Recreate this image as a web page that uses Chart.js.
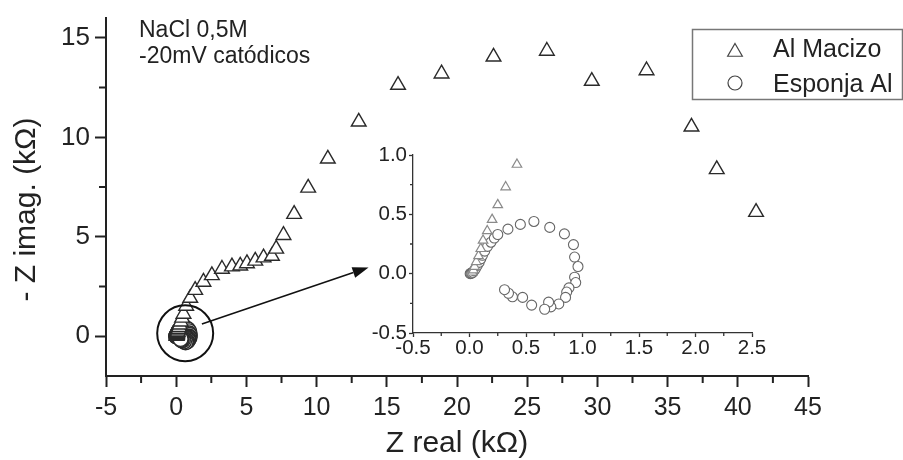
<!DOCTYPE html>
<html>
<head>
<meta charset="utf-8">
<script src="https://cdn.jsdelivr.net/npm/chart.js@4.4.1/dist/chart.umd.min.js"></script>
<style>
html,body{margin:0;padding:0;background:#fff;}
#wrap{position:relative;width:903px;height:460px;overflow:hidden;}
#main{position:absolute;left:0;top:0;}
#inset{position:absolute;left:350px;top:140px;}
</style>
</head>
<body>
<div id="wrap">
<canvas id="main" width="903" height="460"></canvas>
<canvas id="inset" width="440" height="230"></canvas>
</div>
<script>
// ---- data ----
const seriesNames = ['Al Macizo', 'Esponja Al'];

const alMacizoX = [0.025,0.035,0.045,0.06,0.08,0.10,0.12,0.157,0.20,0.25,0.32,0.42,0.52,0.71,1.0,1.35,1.94,2.54,3.26,3.97,4.56,5.04,5.63,6.22,6.82,7.12,7.64,8.4,9.4,10.8,13.0,15.8,18.9,22.6,26.4,29.6,33.5,36.7,38.5,41.3];
const alMacizoY = [0.012,0.03,0.06,0.1,0.15,0.21,0.28,0.36,0.455,0.58,0.73,0.92,1.12,1.52,1.92,2.32,2.73,3.06,3.38,3.5,3.54,3.66,3.79,3.95,4.03,4.39,5.08,6.14,7.46,8.92,10.78,12.63,13.2,14.05,14.34,12.83,13.36,10.53,8.39,6.24];

const esponjaX = [0.006,0.012,0.02,0.03,0.04,0.055,0.07,0.085,0.10,0.115,0.135,0.16,0.19,0.22,0.25,0.34,0.45,0.57,0.71,0.84,0.92,0.93,0.96,0.93,0.94,0.88,0.86,0.85,0.79,0.72,0.70,0.665,0.55,0.47,0.38,0.345,0.31];
const esponjaY = [0.0,0.002,0.005,0.012,0.025,0.045,0.07,0.095,0.125,0.155,0.19,0.23,0.265,0.30,0.33,0.375,0.415,0.44,0.39,0.335,0.245,0.14,0.06,-0.03,-0.075,-0.12,-0.155,-0.2,-0.255,-0.28,-0.24,-0.30,-0.265,-0.2,-0.195,-0.165,-0.135];

const mainXTicks = [-5,0,5,10,15,20,25,30,35,40,45];
const mainYTicks = [0,5,10,15];
const mainXMinor = [-2.5,2.5,7.5,12.5,17.5,22.5,27.5,32.5,37.5,42.5];
const mainYMinor = [2.5,7.5,12.5];
const insetXTicks = [-0.5,0,0.5,1,1.5,2,2.5];
const insetYTicks = [-0.5,0,0.5,1];
const insetXMinor = [-0.25,0.25,0.75,1.25,1.75,2.25];
const insetYMinor = [-0.25,0.25,0.75];

const xTitle = 'Z real (k\u03A9)';
const yTitle = '- Z imag. (k\u03A9)';
const noteLines = ['NaCl 0,5M', '-20mV cat\u00F3dicos'];

// zoom marker annotation (data coordinates of main chart)
const zoomCircle = {x: 0.64, y: 0.15};
const arrowFrom = {x: 1.83, y: 0.62};
const arrowTo = {x: 13.7, y: 3.46};

// ---- helpers ----
const FONT = "'Liberation Sans', Arial, Helvetica, sans-serif";
Chart.defaults.font.family = FONT;
Chart.defaults.color = '#222';

function toPoints(xs, ys) { return xs.map((x, i) => ({x: x, y: ys[i]})); }

const minorTicks = {
  id: 'minorTicks',
  afterDraw(chart, args, o) {
    const ctx = chart.ctx, xs = chart.scales.x, ys = chart.scales.y;
    ctx.save();
    ctx.strokeStyle = o.color; ctx.lineWidth = o.width;
    ctx.beginPath();
    for (const v of o.x) { const p = xs.getPixelForValue(v); ctx.moveTo(p, xs.top); ctx.lineTo(p, xs.top + o.length); }
    for (const v of o.y) { const p = ys.getPixelForValue(v); ctx.moveTo(ys.right - o.length, p); ctx.lineTo(ys.right, p); }
    ctx.stroke();
    ctx.restore();
  }
};

function drawMarker(ctx, style, r, x, y) {
  if (Chart.helpers && Chart.helpers.drawPoint) {
    Chart.helpers.drawPoint(ctx, {pointStyle: style, radius: r, rotation: 0, borderWidth: ctx.lineWidth}, x, y);
  } else {
    ctx.beginPath();
    if (style === 'circle') ctx.arc(x, y, r, 0, Math.PI * 2);
    else { ctx.moveTo(x, y - r); ctx.lineTo(x + r * 0.866, y + r / 2); ctx.lineTo(x - r * 0.866, y + r / 2); ctx.closePath(); }
    ctx.fill(); ctx.stroke();
  }
}

const overlay = {
  id: 'overlay',
  afterDatasetsDraw(chart) {
    const ctx = chart.ctx, xs = chart.scales.x, ys = chart.scales.y;
    ctx.save();
    ctx.strokeStyle = '#111'; ctx.fillStyle = '#111'; ctx.lineWidth = 2;
    ctx.beginPath();
    ctx.arc(xs.getPixelForValue(zoomCircle.x), ys.getPixelForValue(zoomCircle.y), 28, 0, Math.PI * 2);
    ctx.stroke();
    const x1 = xs.getPixelForValue(arrowFrom.x), y1 = ys.getPixelForValue(arrowFrom.y);
    const x2 = xs.getPixelForValue(arrowTo.x), y2 = ys.getPixelForValue(arrowTo.y);
    const a = Math.atan2(y2 - y1, x2 - x1), L = 16, W = 5.5;
    const bx = x2 - L * Math.cos(a), by = y2 - L * Math.sin(a);
    ctx.lineWidth = 1.6;
    ctx.beginPath(); ctx.moveTo(x1, y1); ctx.lineTo(bx, by); ctx.stroke();
    ctx.beginPath();
    ctx.moveTo(x2, y2);
    ctx.lineTo(bx + W * Math.sin(a), by - W * Math.cos(a));
    ctx.lineTo(bx - W * Math.sin(a), by + W * Math.cos(a));
    ctx.closePath(); ctx.fill();
    ctx.restore();
  },
  afterDraw(chart) {
    const ctx = chart.ctx;
    ctx.save();
    ctx.fillStyle = '#222';
    ctx.font = '23px ' + FONT;
    ctx.textBaseline = 'alphabetic';
    ctx.textAlign = 'left';
    ctx.fillText(noteLines[0], 139, 37);
    ctx.fillText(noteLines[1], 139, 63);
    ctx.strokeStyle = '#777'; ctx.lineWidth = 1.5;
    ctx.strokeRect(692.5, 29.5, 210, 70);
    const styles = ['triangle', 'circle'];
    const radii = [8.5, 7];
    const ys = [52, 83];
    ctx.font = '25px ' + FONT;
    chart.data.datasets.forEach((ds, i) => {
      ctx.strokeStyle = '#444'; ctx.fillStyle = '#fff'; ctx.lineWidth = 1.2;
      drawMarker(ctx, styles[i], radii[i], 735, ys[i]);
      ctx.fillStyle = '#222';
      ctx.fillText(ds.label, 773, i === 0 ? 57 : 92);
    });
    ctx.restore();
  }
};

// ---- main chart ----
new Chart(document.getElementById('main'), {
  type: 'scatter',
  data: {
    datasets: [
      {label: seriesNames[0], data: toPoints(alMacizoX, alMacizoY), pointStyle: 'triangle', pointRadius: 8.5,
       borderColor: '#2a2a2a', backgroundColor: '#fff', borderWidth: 1.4},
      {label: seriesNames[1], data: toPoints(esponjaX, esponjaY), pointStyle: 'circle', pointRadius: 7.5,
       borderColor: '#2a2a2a', backgroundColor: '#fff', borderWidth: 1.4}
    ]
  },
  options: {
    responsive: false, animation: false, devicePixelRatio: 1, events: [],
    layout: {padding: {top: 7, right: 95, left: 0, bottom: 0}},
    plugins: {
      legend: {display: false}, tooltip: {enabled: false},
      minorTicks: {x: mainXMinor, y: mainYMinor, length: 7, width: 2, color: '#222'}
    },
    scales: {
      x: {
        type: 'linear', min: -5, max: 45,
        afterBuildTicks: s => { s.ticks = mainXTicks.map(v => ({value: v})); },
        afterFit: s => { s.height = 84; },
        grid: {drawOnChartArea: false, drawTicks: true, tickLength: 11, tickWidth: 2, tickColor: '#222'},
        border: {display: true, color: '#222', width: 2},
        ticks: {padding: 9, font: {size: 25, lineHeight: 1}, color: '#222', callback: v => String(v), maxRotation: 0, autoSkip: false},
        title: {display: true, text: xTitle, font: {size: 30, lineHeight: 1}, color: '#222', padding: {top: 0, bottom: 1}}
      },
      y: {
        type: 'linear', min: -2, max: 16,
        afterBuildTicks: s => { s.ticks = mainYTicks.map(v => ({value: v})); },
        afterFit: s => { s.width = 106; },
        grid: {drawOnChartArea: false, drawTicks: true, tickLength: 11, tickWidth: 2, tickColor: '#222'},
        border: {display: true, color: '#222', width: 2},
        ticks: {padding: 5, font: {size: 26, lineHeight: 1}, color: '#222', callback: v => String(v), autoSkip: false},
        title: {display: true, text: yTitle + '   ', font: {size: 30, lineHeight: 1}, color: '#222', padding: {top: 12, bottom: 0}}
      }
    }
  },
  plugins: [minorTicks, overlay]
});

// ---- inset chart ----
new Chart(document.getElementById('inset'), {
  type: 'scatter',
  data: {
    datasets: [
      {label: seriesNames[0], data: toPoints(alMacizoX, alMacizoY), pointStyle: 'triangle', pointRadius: 5.5,
       borderColor: '#8a8a8a', backgroundColor: '#fff', borderWidth: 1.2},
      {label: seriesNames[1], data: toPoints(esponjaX, esponjaY), pointStyle: 'circle', pointRadius: 5,
       borderColor: '#666', backgroundColor: '#fff', borderWidth: 1.1}
    ]
  },
  options: {
    responsive: false, animation: false, devicePixelRatio: 1, events: [],
    layout: {padding: {top: 15, right: 38, left: 0, bottom: 0}},
    plugins: {
      legend: {display: false}, tooltip: {enabled: false},
      minorTicks: {x: insetXMinor, y: insetYMinor, length: 3, width: 1.3, color: '#333'}
    },
    scales: {
      x: {
        type: 'linear', min: -0.5, max: 2.5,
        afterBuildTicks: s => { s.ticks = insetXTicks.map(v => ({value: v})); },
        afterFit: s => { s.height = 37; },
        grid: {drawOnChartArea: false, drawTicks: true, tickLength: 4, tickWidth: 1.3, tickColor: '#333'},
        border: {display: true, color: '#333', width: 1.3},
        ticks: {padding: 1, font: {size: 20.5, lineHeight: 1}, color: '#222', callback: v => Number(v).toFixed(1), maxRotation: 0, autoSkip: false}
      },
      y: {
        type: 'linear', min: -0.5, max: 1.0,
        afterBuildTicks: s => { s.ticks = insetYTicks.map(v => ({value: v})); },
        afterFit: s => { s.width = 63; },
        grid: {drawOnChartArea: false, drawTicks: true, tickLength: 4, tickWidth: 1.3, tickColor: '#333'},
        border: {display: true, color: '#333', width: 1.3},
        ticks: {padding: 2, font: {size: 20.5, lineHeight: 1}, color: '#222', callback: v => Number(v).toFixed(1), autoSkip: false}
      }
    }
  },
  plugins: [minorTicks]
});
</script>
</body>
</html>
